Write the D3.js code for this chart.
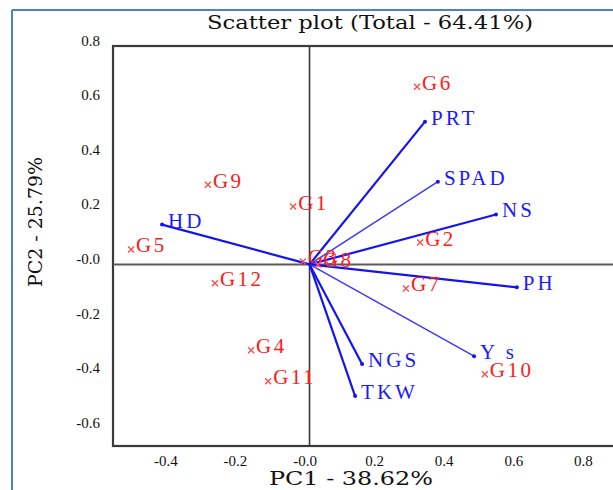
<!DOCTYPE html>
<html>
<head>
<meta charset="utf-8">
<script src="https://cdn.jsdelivr.net/npm/d3@7"></script>
<style>
  html, body { margin: 0; padding: 0; background: #fff; }
  svg { display: block; }
</style>
</head>
<body>
<svg id="chart" width="613" height="490"></svg>
<script>
// ---- data ----
const genotypes = ["G1","G2","G3","G4","G5","G6","G7","G8","G9","G10","G11","G12"];
const genoPC1   = [-0.047, 0.318, -0.019, -0.168, -0.513, 0.309, 0.277, 0.024, -0.292, 0.504, -0.119, -0.272];
const genoPC2   = [ 0.212, 0.080,  0.011, -0.314,  0.055, 0.651, -0.088, 0.000, 0.292, -0.402, -0.428, -0.069];

const traits    = ["PRT","SPAD","NS","PH","Ys","NGS","TKW","HD"];
const traitPC1  = [0.332, 0.369, 0.536, 0.596, 0.473, 0.151, 0.131, -0.424];
const traitPC2  = [0.523, 0.303, 0.183, -0.084, -0.336, -0.365, -0.482, 0.146];

const xTicks = [-0.4, -0.2, 0, 0.2, 0.4, 0.6, 0.8];
const xTickLabels = ["-0.4", "-0.2", "-0.0", "0.2", "0.4", "0.6", "0.8"];
const yTicks = [0.8, 0.6, 0.4, 0.2, 0, -0.2, -0.4, -0.6];
const yTickLabels = ["0.8", "0.6", "0.4", "0.2", "-0.0", "-0.2", "-0.4", "-0.6"];

const titleText = "Scatter plot (Total - 64.41%)";
const xTitle = "PC1 - 38.62%";
const yTitle = "PC2 - 25.79%";

// ---- drawing ----
const svg = d3.select("#chart");
const font = "'Liberation Serif', 'Times New Roman', serif";
const wideFont = "'DejaVu Serif', serif";
const plotL = 113, plotT = 46, plotB = 446, plotR = 640;

const x = d3.scaleLinear().domain([-0.565, 0.95]).range([plotL, plotR]);
const y = d3.scaleLinear().domain([-0.665, 0.8]).range([plotB, plotT]);

// outer frame (blue)
svg.append("line").attr("x1", 12).attr("y1", 10).attr("x2", 613).attr("y2", 10)
  .attr("stroke", "#4f81bd").attr("stroke-width", 2);
svg.append("line").attr("x1", 12).attr("y1", 10).attr("x2", 12).attr("y2", 490)
  .attr("stroke", "#4f81bd").attr("stroke-width", 2);

// plot border
svg.append("rect").attr("x", plotL).attr("y", plotT)
  .attr("width", plotR - plotL).attr("height", plotB - plotT)
  .attr("fill", "none").attr("stroke", "#3a3a3a").attr("stroke-width", 2.2);

// zero lines
svg.append("line").attr("x1", x(0)).attr("x2", x(0)).attr("y1", plotT).attr("y2", plotB)
  .attr("stroke", "#3a3a3a").attr("stroke-width", 1.6);
svg.append("line").attr("x1", plotL).attr("x2", plotR).attr("y1", y(0)).attr("y2", y(0))
  .attr("stroke", "#5a5a5a").attr("stroke-width", 2);

// axes (labels only)
const xAxis = d3.axisBottom(x).tickValues(xTicks).tickSize(0)
  .tickFormat((d, i) => xTickLabels[i]);
const gx = svg.append("g").attr("transform", `translate(0,${plotB})`).call(xAxis);
gx.select(".domain").remove();
gx.selectAll("text").attr("font-family", font).attr("font-size", 15)
  .attr("fill", "#111").attr("dx", -5).attr("dy", 0).attr("y", 20);

const yAxis = d3.axisLeft(y).tickValues(yTicks).tickSize(0)
  .tickFormat((d, i) => yTickLabels[i]);
const gy = svg.append("g").attr("transform", `translate(${plotL},0)`).call(yAxis);
gy.select(".domain").remove();
gy.selectAll("text").attr("font-family", font).attr("font-size", 15)
  .attr("fill", "#111").attr("x", -13).attr("dy", 0).attr("y", -1);

// titles
svg.append("text").attr("x", 370).attr("y", 29).attr("text-anchor", "middle")
  .attr("font-family", wideFont).attr("font-size", 18).attr("fill", "#111")
  .attr("textLength", 326).attr("lengthAdjust", "spacingAndGlyphs")
  .text(titleText);
svg.append("text").attr("x", 351).attr("y", 485).attr("text-anchor", "middle")
  .attr("font-family", wideFont).attr("font-size", 18).attr("fill", "#111")
  .attr("textLength", 164).attr("lengthAdjust", "spacingAndGlyphs")
  .text(xTitle);
svg.append("text").attr("transform", "translate(42,222) rotate(-90)")
  .attr("text-anchor", "middle")
  .attr("font-family", wideFont).attr("font-size", 18).attr("fill", "#111")
  .attr("textLength", 130).attr("lengthAdjust", "spacingAndGlyphs")
  .text(yTitle);

// trait vectors
const traitWidth = { "SPAD": 1.5, "Ys": 1.5 };
const tg = svg.append("g");
traits.forEach((t, i) => {
  const ex = x(traitPC1[i]), ey = y(traitPC2[i]);
  tg.append("line").attr("x1", x(0)).attr("y1", y(0)).attr("x2", ex).attr("y2", ey)
    .attr("stroke", traitWidth[t] ? "#3a3aff" : "#1414f0")
    .attr("stroke-width", traitWidth[t] || 2.2);
  tg.append("circle").attr("cx", ex).attr("cy", ey).attr("r", 2).attr("fill", "#1414f0");
  tg.append("text").attr("x", ex + 6).attr("y", ey + 3)
    .attr("font-family", font).attr("font-size", 21).attr("letter-spacing", 3)
    .attr("fill", "#1a1aff").text(t === "Ys" ? "Y s" : t);
});

// genotype points
const gg = svg.append("g");
genotypes.forEach((g, i) => {
  const px = x(genoPC1[i]), py = y(genoPC2[i]);
  const s = 3;
  gg.append("path")
    .attr("d", `M${px - s},${py - s}L${px + s},${py + s}M${px - s},${py + s}L${px + s},${py - s}`)
    .attr("stroke", "#ff4d4d").attr("stroke-width", 1.4);
  gg.append("text").attr("x", px + 5).attr("y", py + 3)
    .attr("font-family", font).attr("font-size", 21).attr("letter-spacing", 2.5)
    .attr("fill", "#ff1a1a").text(g);
});
</script>
</body>
</html>
